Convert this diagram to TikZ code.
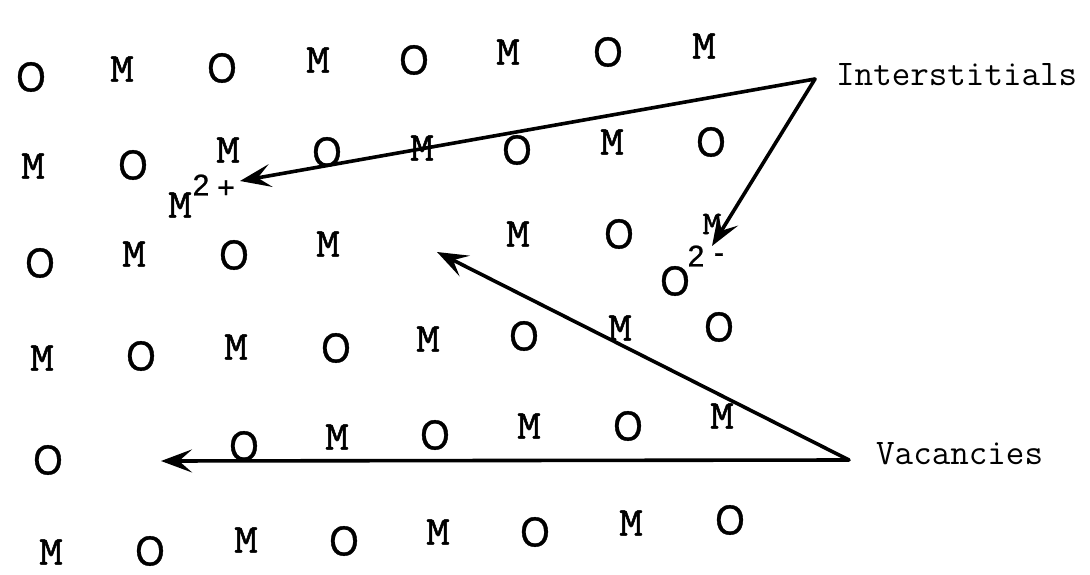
\documentclass[tikz,border=0pt]{standalone}
\usepackage{fontspec}
\newfontfamily\osf[FakeStretch=0.9,FakeBold=0.8]{Liberation Sans}
\newfontfamily\supf[FakeBold=0.8]{Liberation Sans}
\newfontfamily\mwide[FakeStretch=1.12,FakeBold=1.2]{Latin Modern Mono}
\usetikzlibrary{arrows.meta}
\begin{document}
\begin{tikzpicture}[x=1pt,y=-1pt,
  oat/.style={font=\osf\fontsize{42}{42}\selectfont, inner sep=0pt},
  mat/.style={font=\mwide\fontsize{41}{41}\selectfont, inner sep=0pt},
  msmall/.style={font=\mwide\fontsize{33}{33}\selectfont, inner sep=0pt},
  sup/.style={font=\supf\fontsize{30}{30}\selectfont, inner sep=0pt},
  lbl/.style={font=\ttfamily\fontsize{36}{36}\selectfont, inner sep=0pt, anchor=base west},
  arr/.style={line width=3.6pt, line join=round,
    {Stealth[length=31pt,width=23pt,inset=13pt]}-{Stealth[length=31pt,width=23pt,inset=13pt]}}]
\fill[white] (0,0) rectangle (1090,575);
\useasboundingbox (0,0) rectangle (1090,575);
% row 1
\node[oat] (o11) at (31,77) {O};
\node[mat] (m11) at (122,69) {M};
\node[oat] (o12) at (222,68) {O};
\node[mat] (m12) at (318,60) {M};
\node[oat] (o13) at (414,60) {O};
\node[mat] (m13) at (508,52) {M};
\node[oat] (o14) at (608,52) {O};
\node[mat] (m14) at (704,46) {M};
% row 2
\node[mat] (m21) at (33,166) {M};
\node[oat] (o21) at (133,165) {O};
\node[mat] (m22) at (228,150) {M};
\node[oat] (o22) at (327,152) {O};
\node[mat] (m23) at (422,148) {M};
\node[oat] (o23) at (517,150) {O};
\node[mat] (m24) at (612,142) {M};
\node[oat] (o24) at (711,142) {O};
% M2+ interstitial
\node[mat] (mion) at (180,205) {M};
\node[sup] (mtwo) at (201,185) {2};
\node[sup] (mplus) at (226,189) {+};
% row 3
\node[oat] (o31) at (40,263) {O};
\node[mat] (m31) at (134,254) {M};
\node[oat] (o32) at (234,255) {O};
\node[mat] (m32) at (328,244) {M};
\node[mat] (m33) at (518,234) {M};
\node[oat] (o33) at (619,234) {O};
\node[msmall] (m34) at (712,224) {M};
% O2- interstitial
\node[oat] (oion) at (675,281) {O};
\node[sup] (otwo) at (696,256) {2};
\node[sup] (ominus) at (719,258) {-};
% row 4
\node[mat] (m41) at (42,358) {M};
\node[oat] (o41) at (141,356) {O};
\node[mat] (m42) at (236,347) {M};
\node[oat] (o42) at (336,348) {O};
\node[mat] (m43) at (428,339) {M};
\node[oat] (o43) at (524,336) {O};
\node[mat] (m44) at (620,328) {M};
\node[oat] (o44) at (719,327) {O};
% row 5
\node[oat] (o51) at (48,460) {O};
\node[oat] (o52) at (244,446) {O};
\node[mat] (m52) at (337,437) {M};
\node[oat] (o53) at (435,435) {O};
\node[mat] (m53) at (529,426) {M};
\node[oat] (o54) at (628,426) {O};
\node[mat] (m54) at (722,416) {M};
% row 6
\node[mat] (m61) at (51,552) {M};
\node[oat] (o61) at (150,551) {O};
\node[mat] (m62) at (246,540) {M};
\node[oat] (o62) at (344,541) {O};
\node[mat] (m63) at (438,532) {M};
\node[oat] (o63) at (535,532) {O};
\node[mat] (m64) at (631,523) {M};
\node[oat] (o64) at (730,520) {O};
% labels
\node[lbl] (inter) at (836,86) {Interstitials};
\node[lbl] (vac) at (876,464) {Vacancies};
% arrow points
\coordinate (iapex) at (815,79);
\coordinate (mtip) at (240,181);
\coordinate (otip) at (712,246);
\coordinate (vapex) at (849,460);
\coordinate (vtipa) at (161,461);
\coordinate (vtipb) at (437,252);
% arrows
\draw[arr] (mtip) -- (iapex) -- (otip);
\draw[arr] (vtipa) -- (vapex) -- (vtipb);
\end{tikzpicture}
\end{document}
